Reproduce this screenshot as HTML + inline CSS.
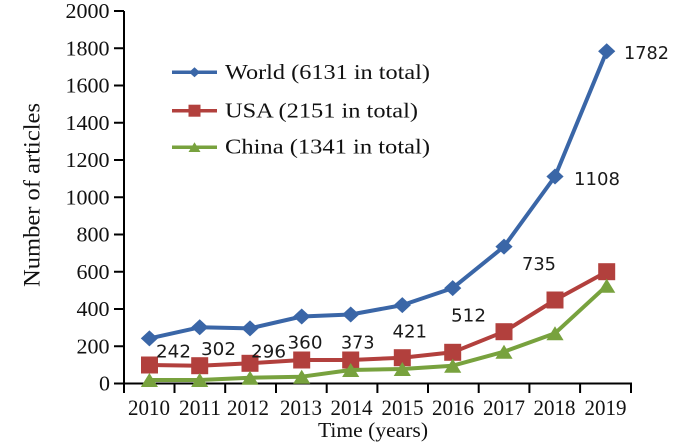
<!DOCTYPE html>
<html><head><meta charset="utf-8"><style>
html,body{margin:0;padding:0;background:#fff;}
svg{display:block;}
.t{font-family:"Liberation Serif","Times New Roman",serif;fill:#111;}
.d{font-family:"DejaVu Sans","Liberation Sans",sans-serif;fill:#1a1a1a;font-size:18px;}
</style></head><body>
<svg width="700" height="446" viewBox="0 0 700 446" xmlns="http://www.w3.org/2000/svg">
<rect width="700" height="446" fill="#fff"/>
<!-- axes -->
<g stroke="#000" stroke-width="2" fill="none">
<line x1="124" y1="11" x2="124" y2="393"/>
<line x1="114" y1="383.5" x2="632" y2="383.5"/>
<line x1="114" y1="11" x2="124" y2="11"/>
<line x1="114" y1="48.25" x2="124" y2="48.25"/>
<line x1="114" y1="85.5" x2="124" y2="85.5"/>
<line x1="114" y1="122.75" x2="124" y2="122.75"/>
<line x1="114" y1="160" x2="124" y2="160"/>
<line x1="114" y1="197.25" x2="124" y2="197.25"/>
<line x1="114" y1="234.5" x2="124" y2="234.5"/>
<line x1="114" y1="271.75" x2="124" y2="271.75"/>
<line x1="114" y1="309" x2="124" y2="309"/>
<line x1="114" y1="346.25" x2="124" y2="346.25"/>
<line x1="174.5" y1="383.5" x2="174.5" y2="393"/>
<line x1="225.2" y1="383.5" x2="225.2" y2="393"/>
<line x1="276" y1="383.5" x2="276" y2="393"/>
<line x1="326.7" y1="383.5" x2="326.7" y2="393"/>
<line x1="377.4" y1="383.5" x2="377.4" y2="393"/>
<line x1="428" y1="383.5" x2="428" y2="393"/>
<line x1="478.7" y1="383.5" x2="478.7" y2="393"/>
<line x1="529.4" y1="383.5" x2="529.4" y2="393"/>
<line x1="580.1" y1="383.5" x2="580.1" y2="393"/>
<line x1="631" y1="383.5" x2="631" y2="393"/>
</g>
<!-- y tick labels -->
<g class="t" font-size="21">
<text x="65.5" y="18" textLength="44" lengthAdjust="spacingAndGlyphs">2000</text>
<text x="65.5" y="55.25" textLength="44" lengthAdjust="spacingAndGlyphs">1800</text>
<text x="65.5" y="92.5" textLength="44" lengthAdjust="spacingAndGlyphs">1600</text>
<text x="65.5" y="129.75" textLength="44" lengthAdjust="spacingAndGlyphs">1400</text>
<text x="65.5" y="167" textLength="44" lengthAdjust="spacingAndGlyphs">1200</text>
<text x="65.5" y="204.25" textLength="44" lengthAdjust="spacingAndGlyphs">1000</text>
<text x="76.5" y="241.5" textLength="33" lengthAdjust="spacingAndGlyphs">800</text>
<text x="76.5" y="278.75" textLength="33" lengthAdjust="spacingAndGlyphs">600</text>
<text x="76.5" y="316" textLength="33" lengthAdjust="spacingAndGlyphs">400</text>
<text x="76.5" y="353.25" textLength="33" lengthAdjust="spacingAndGlyphs">200</text>
<text x="99" y="390.5" textLength="11" lengthAdjust="spacingAndGlyphs">0</text>
</g>
<!-- x tick labels -->
<g class="t" font-size="22">
<text x="128" y="415" textLength="42" lengthAdjust="spacingAndGlyphs">2010</text>
<text x="179" y="415" textLength="42" lengthAdjust="spacingAndGlyphs">2011</text>
<text x="227" y="415" textLength="42" lengthAdjust="spacingAndGlyphs">2012</text>
<text x="280" y="415" textLength="42" lengthAdjust="spacingAndGlyphs">2013</text>
<text x="330.5" y="415" textLength="42" lengthAdjust="spacingAndGlyphs">2014</text>
<text x="381.5" y="415" textLength="42" lengthAdjust="spacingAndGlyphs">2015</text>
<text x="432" y="415" textLength="42" lengthAdjust="spacingAndGlyphs">2016</text>
<text x="483" y="415" textLength="42" lengthAdjust="spacingAndGlyphs">2017</text>
<text x="533.5" y="415" textLength="42" lengthAdjust="spacingAndGlyphs">2018</text>
<text x="584.5" y="415" textLength="42" lengthAdjust="spacingAndGlyphs">2019</text>
</g>
<!-- axis titles -->
<text class="t" font-size="21" x="318" y="437" textLength="110" lengthAdjust="spacingAndGlyphs">Time (years)</text>
<text class="t" font-size="23" transform="translate(39.5,287) rotate(-90)" x="0" y="0" textLength="184" lengthAdjust="spacingAndGlyphs">Number of articles</text>

<!-- World -->
<polyline fill="none" stroke="#3A66A7" stroke-width="4" stroke-linejoin="round" points="149.4,338.4 199.7,327.3 250,328.4 301.7,316.5 350.7,314.5 402.3,305.1 452.7,288.1 504,246.6 555,176.5 606.7,51.3"/>
<g fill="#3A66A7">
<polygon points="149.4,330.4 158,338.4 149.4,346.4 140.8,338.4"/>
<polygon points="199.7,319.3 208.3,327.3 199.7,335.3 191.1,327.3"/>
<polygon points="250,320.4 258.6,328.4 250,336.4 241.4,328.4"/>
<polygon points="301.7,308.5 310.3,316.5 301.7,324.5 293.1,316.5"/>
<polygon points="350.7,306.5 359.3,314.5 350.7,322.5 342.1,314.5"/>
<polygon points="402.3,297.1 410.9,305.1 402.3,313.1 393.7,305.1"/>
<polygon points="452.7,280.1 461.3,288.1 452.7,296.1 444.1,288.1"/>
<polygon points="504,238.6 512.6,246.6 504,254.6 495.4,246.6"/>
<polygon points="555,168.5 563.6,176.5 555,184.5 546.4,176.5"/>
<polygon points="606.7,43.3 615.3,51.3 606.7,59.3 598.1,51.3"/>
</g>
<!-- USA -->
<polyline fill="none" stroke="#B2403D" stroke-width="4" stroke-linejoin="round" points="149.4,365 199.7,365.7 250,363.3 301.7,360 350.7,360 402.3,357.7 452.7,352.3 504,331.7 555,300 606.7,271.7"/>
<g fill="#B2403D">
<rect x="141" y="356.5" width="17" height="17"/>
<rect x="191.2" y="357.2" width="17" height="17"/>
<rect x="241.5" y="354.8" width="17" height="17"/>
<rect x="293.2" y="351.5" width="17" height="17"/>
<rect x="342.2" y="351.5" width="17" height="17"/>
<rect x="393.8" y="349.2" width="17" height="17"/>
<rect x="444.2" y="343.8" width="17" height="17"/>
<rect x="495.5" y="323.2" width="17" height="17"/>
<rect x="546.5" y="291.5" width="17" height="17"/>
<rect x="598.2" y="263.2" width="17" height="17"/>
</g>
<!-- China -->
<polyline fill="none" stroke="#78A23E" stroke-width="4" stroke-linejoin="round" points="149.4,380 199.7,380 250,377.7 301.7,376.7 350.7,370 402.3,369 452.7,365.7 504,351.7 555,333.3 606.7,285.7"/>
<g fill="#78A23E">
<polygon points="149.4,373 158,387 140.8,387"/>
<polygon points="199.7,373 208.3,387 191.1,387"/>
<polygon points="250,370.7 258.6,384.7 241.4,384.7"/>
<polygon points="301.7,369.7 310.3,383.7 293.1,383.7"/>
<polygon points="350.7,363 359.3,377 342.1,377"/>
<polygon points="402.3,362 410.9,376 393.7,376"/>
<polygon points="452.7,358.7 461.3,372.7 444.1,372.7"/>
<polygon points="504,344.7 512.6,358.7 495.4,358.7"/>
<polygon points="555,326.3 563.6,340.3 546.4,340.3"/>
<polygon points="606.7,278.7 615.3,292.7 598.1,292.7"/>
</g>

<!-- data labels -->
<text class="d" x="156" y="357.3" textLength="35" lengthAdjust="spacingAndGlyphs">242</text>
<text class="d" x="201" y="355" textLength="35" lengthAdjust="spacingAndGlyphs">302</text>
<text class="d" x="251" y="357.3" textLength="35" lengthAdjust="spacingAndGlyphs">296</text>
<text class="d" x="287.5" y="348.3" textLength="35" lengthAdjust="spacingAndGlyphs">360</text>
<text class="d" x="341" y="348.3" textLength="33.5" lengthAdjust="spacingAndGlyphs">373</text>
<text class="d" x="392.5" y="337.3" textLength="34.5" lengthAdjust="spacingAndGlyphs">421</text>
<text class="d" x="451" y="321.7" textLength="35" lengthAdjust="spacingAndGlyphs">512</text>
<text class="d" x="522" y="270" textLength="34" lengthAdjust="spacingAndGlyphs">735</text>
<text class="d" x="574" y="185" textLength="46" lengthAdjust="spacingAndGlyphs">1108</text>
<text class="d" x="624" y="59" textLength="45" lengthAdjust="spacingAndGlyphs">1782</text>

<!-- legend -->
<line x1="172" y1="72.3" x2="217" y2="72.3" stroke="#3A66A7" stroke-width="3.5"/>
<polygon points="194.5,67.3 200,72.3 194.5,77.3 189,72.3" fill="#3A66A7"/>
<line x1="172" y1="110.7" x2="217" y2="110.7" stroke="#B2403D" stroke-width="3.5"/>
<rect x="188.5" y="104.7" width="12" height="12" fill="#B2403D"/>
<line x1="172" y1="147.3" x2="217" y2="147.3" stroke="#78A23E" stroke-width="3.5"/>
<polygon points="194.5,142.3 200.5,152 188.5,152" fill="#78A23E"/>
<g class="t" font-size="21">
<text x="225" y="79" textLength="205" lengthAdjust="spacingAndGlyphs">World (6131 in total)</text>
<text x="225" y="117.3" textLength="193" lengthAdjust="spacingAndGlyphs">USA (2151 in total)</text>
<text x="225" y="153.5" textLength="205" lengthAdjust="spacingAndGlyphs">China (1341 in total)</text>
</g>
</svg>
</body></html>
